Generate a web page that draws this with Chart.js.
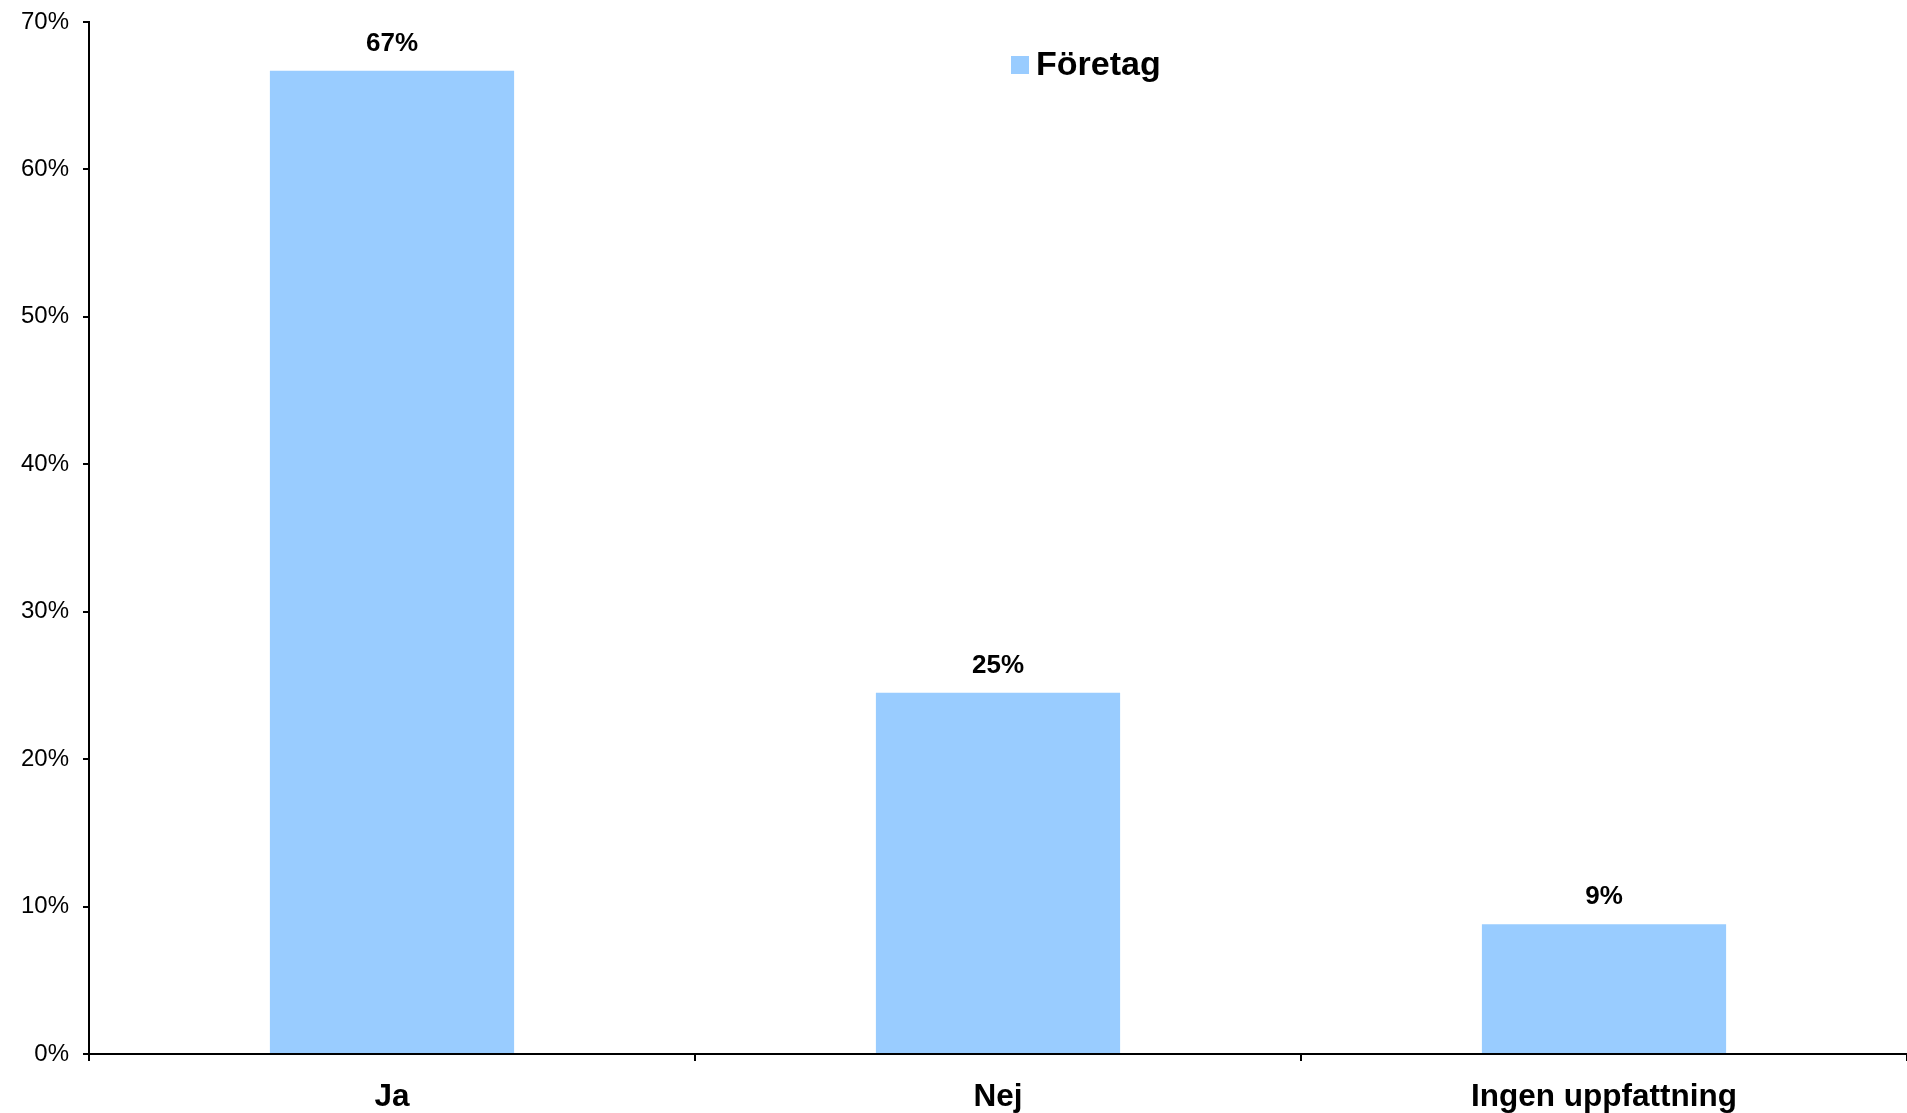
<!DOCTYPE html>
<html>
<head>
<meta charset="utf-8">
<script src="https://cdn.jsdelivr.net/npm/chart.js@4/dist/chart.umd.min.js"></script>
<style>
  html, body { margin: 0; padding: 0; background: #fff; }
  #wrap { width: 1907px; height: 1113px; }
</style>
</head>
<body>
<div id="wrap"><canvas id="chart"></canvas></div>
<script>
const categories = ["Ja", "Nej", "Ingen uppfattning"];
const seriesName = "Företag";
const values = [66.7, 24.5, 8.8];
const valueLabels = ["67%", "25%", "9%"];
const yTicks = [0, 10, 20, 30, 40, 50, 60, 70];

const barColor = "#99CCFF";
const fontFamily = "'Liberation Sans', Arial, sans-serif";

// value labels over bars + the small legend inside the plot
const overlay = {
    id: 'overlay',
    afterDatasetsDraw(chart) {
        const ctx = chart.ctx;
        ctx.save();
        ctx.fillStyle = '#000';
        ctx.font = "bold 26px " + fontFamily;
        ctx.textAlign = 'center';
        ctx.textBaseline = 'middle';
        chart.getDatasetMeta(0).data.forEach((bar, i) => {
            ctx.fillText(valueLabels[i], bar.x, bar.y - 27);
        });

        // legend
        const ds = chart.data.datasets[0];
        ctx.fillStyle = ds.backgroundColor;
        ctx.fillRect(1011, 56, 18, 18);
        ctx.fillStyle = '#000';
        ctx.font = "bold 34px " + fontFamily;
        ctx.textAlign = 'left';
        ctx.fillText(ds.label, 1036, 66);
        ctx.restore();
    }
};

new Chart(document.getElementById('chart'), {
    type: 'bar',
    data: {
        labels: categories,
        datasets: [{
            label: seriesName,
            data: values,
            backgroundColor: barColor,
            barPercentage: 0.403,
            categoryPercentage: 1.0
        }]
    },
    options: {
        responsive: true,
        maintainAspectRatio: false,
        animation: false,
        layout: { padding: { top: 22, right: 0, bottom: 0, left: 0 } },
        plugins: {
            legend: { display: false },
            tooltip: { enabled: false }
        },
        scales: {
            x: {
                grid: {
                    offset: true,
                    drawOnChartArea: false,
                    drawTicks: true,
                    tickLength: 7,
                    color: '#000',
                    lineWidth: 2
                },
                border: { color: '#000', width: 2 },
                ticks: {
                    color: '#000',
                    padding: 17,
                    font: { family: fontFamily, size: 31.5, weight: 'bold' }
                },
                afterFit(scale) { scale.height = 59; }
            },
            y: {
                min: 0,
                max: 70,
                afterBuildTicks(scale) { scale.ticks = yTicks.map(v => ({ value: v })); },
                grid: {
                    drawOnChartArea: false,
                    drawTicks: true,
                    tickLength: 6,
                    color: '#000',
                    lineWidth: 2
                },
                border: { color: '#000', width: 2 },
                ticks: {
                    color: '#000',
                    padding: 14,
                    font: { family: fontFamily, size: 24 },
                    callback: v => v + '%'
                },
                afterFit(scale) {
                    scale.width = 89;
                    scale.paddingTop = 0;
                    scale.paddingBottom = 0;
                }
            }
        }
    },
    plugins: [overlay]
});
</script>
</body>
</html>
